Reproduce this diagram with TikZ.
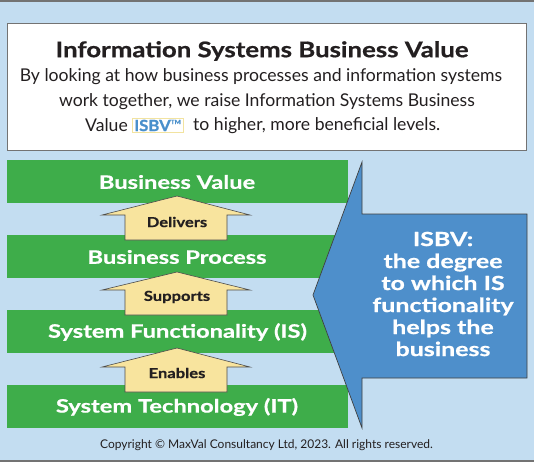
\documentclass[tikz,border=0pt]{standalone}
\usepackage{fontspec}
\setmainfont{Lato}
\newfontfamily\wbf[FakeStretch=1.2,FakeBold=0.7]{Lato}
\newfontfamily\wbfw[FakeStretch=1.28,FakeBold=0.7]{Lato}
\newfontfamily\wbfn[FakeStretch=1.08,FakeBold=0.7]{Lato}
\definecolor{bgblue}{HTML}{C3DDF1}
\definecolor{barGreen}{HTML}{3EAD4A}
\definecolor{arrYellow}{HTML}{F8E49E}
\definecolor{bigBlue}{HTML}{4E8FCB}
\definecolor{txtDark}{HTML}{231F20}
\definecolor{isbvBlue}{HTML}{4A90CC}
\definecolor{isbvFrame}{HTML}{F2E3A0}
\tikzset{
  bar/.style={fill=barGreen, draw=none},
  bartext/.style={text=white, font=\wbfw\bfseries\fontsize{18.5}{22}\selectfont, anchor=center, inner sep=0pt},
  yarrow/.style={fill=arrYellow, draw=black!70, line width=0.6pt, line join=miter},
  arrtext/.style={text=txtDark, font=\wbf\bfseries\fontsize{13.8}{15}\selectfont, anchor=center, inner sep=0pt},
  bodytext/.style={font=\fontsize{17.6}{20}\selectfont, text=txtDark, inner sep=0pt},
}
\begin{document}
\begin{tikzpicture}[x=1pt,y=-1pt]
\useasboundingbox (0,0) rectangle (534,462);
\fill[bgblue] (0,0) rectangle (534,462);
\draw[black!55, line width=1.5pt] (0,1) -- (534,1);
\draw[black!55, line width=2pt] (0,460.5) -- (534,460.5);
% header box
\draw[fill=white, draw=black!55, line width=0.9pt] (7.5,23) rectangle (526,150);
\node[font=\wbf\bfseries\fontsize{21.5}{24}\selectfont, text=txtDark, inner sep=0pt] (title) at (262,51) {Information Systems Business Value};
\node[bodytext] (l1) at (261,77) {By looking at how business processes and information systems};
\node[bodytext] (l2) at (267,101.5) {work together, we raise Information Systems Business};
\node[bodytext, anchor=east] (l3a) at (128,125.5) {Value};
\node[draw=isbvFrame, fill=white, line width=0.8pt, inner sep=0pt, minimum width=51pt, minimum height=14pt, text=isbvBlue, font=\wbfn\bfseries\fontsize{15.5}{17}\selectfont] (isbv) at (157.5,125.5) {ISBV\raisebox{0.45em}{\fontsize{6}{6}\selectfont TM}};
\node[bodytext, anchor=west] (l3b) at (193,125.5) {to higher, more beneficial levels.};
% green bars
\fill[bar] (7,160) rectangle (348,203);
\fill[bar] (7,235) rectangle (348,278);
\fill[bar] (7,310) rectangle (348,353);
\fill[bar] (7,385) rectangle (348,428);
\node[bartext] (bv) at (177,182) {Business Value};
\node[bartext] (bp) at (177,257) {Business Process};
\node[bartext] (sf) at (177.5,332) {System Functionality (IS)};
\node[bartext] (st) at (177,407) {System Technology (IT)};
% yellow arrows
\draw[yarrow] (177,196) -- (250,215) -- (227,215) -- (227,240) -- (125,240) -- (125,215) -- (102,215) -- cycle;
\draw[yarrow] (177,272) -- (250,290) -- (227,290) -- (227,315) -- (125,315) -- (125,290) -- (102,290) -- cycle;
\draw[yarrow] (177,348) -- (250,367) -- (227,367) -- (227,392) -- (125,392) -- (125,367) -- (102,367) -- cycle;
\node[arrtext] (del) at (177,222) {Delivers};
\node[arrtext] (sup) at (177,297) {Supports};
\node[arrtext] (ena) at (177,373) {Enables};
% big blue arrow
\draw[fill=bigBlue, draw=black!75, line width=0.7pt, line join=miter] (527,214) -- (362,214) -- (362,162) -- (313,295) -- (362,428) -- (362,378) -- (527,378) -- cycle;
\node[text=white, font=\wbfw\bfseries\fontsize{19.5}{22}\selectfont, align=center, inner sep=0pt] (isbvtxt) at (443,294) {ISBV:\\the degree\\to which IS\\functionality\\helps the\\business};
% copyright
\node[font=\fontsize{12}{14}\selectfont, text=txtDark, inner sep=0pt] (copy) at (266.5,445) {Copyright \textcopyright{} MaxVal Consultancy Ltd, 2023. All rights reserved.};
\end{tikzpicture}
\end{document}
